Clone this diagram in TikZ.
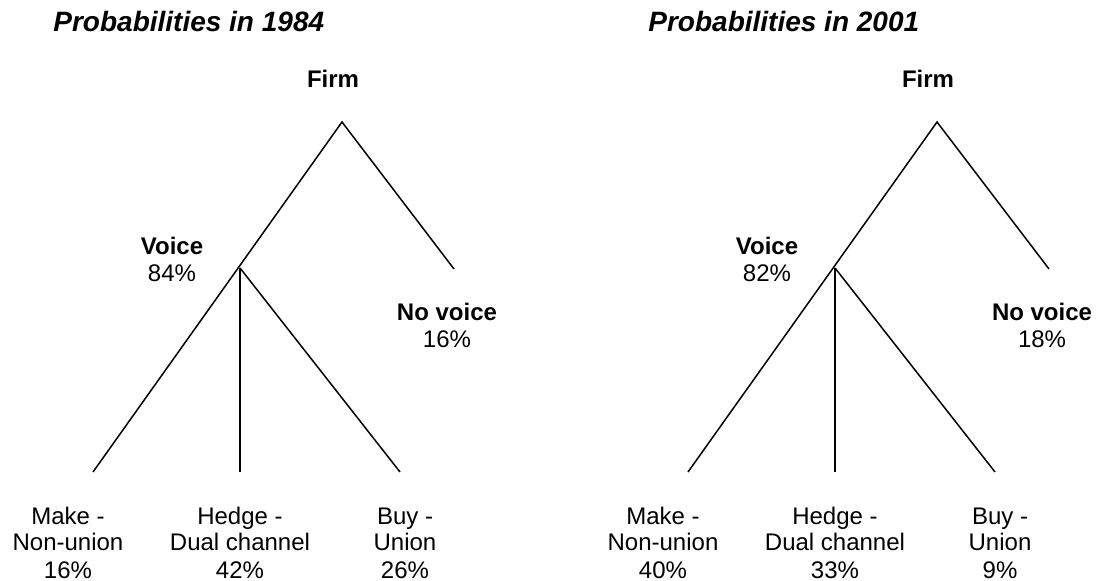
\documentclass[tikz,border=0pt]{standalone}
\usepackage{fontspec}
\setmainfont{Liberation Sans}
\usepackage{tikz}

\tikzset{
  lbl/.style={align=center, anchor=base, inner sep=0pt,
    font=\fontsize{12}{13.5}\selectfont},
  hd/.style={anchor=base west, inner sep=0pt,
    font=\fontsize{14}{16}\selectfont\bfseries\itshape},
  branch/.style={line width=0.75pt}
}

\begin{document}
\begin{tikzpicture}[x=0.5pt, y=-0.5pt]
    \useasboundingbox (0,0) rectangle (1096,581);
    \foreach \t/\dx/\yr/\pv/\pn/\pm/\ph/\pb in
      {a/0/1984/84/16/16/42/26, b/595/2001/82/18/40/33/9} {
      \node[hd] (title\t) at (53+\dx,32) {Probabilities in \yr};
      \node[lbl] (firm\t) at (333+\dx,88) {\textbf{Firm}};
      \node[lbl] (voice\t) at (172+\dx,282) {\textbf{Voice}\\\pv\%};
      \node[lbl] (novoice\t) at (447+\dx,348) {\textbf{No voice}\\\pn\%};
      \node[lbl] (make\t) at (68+\dx,578) {Make -\\Non-union\\\pm\%};
      \node[lbl] (hedge\t) at (240+\dx,578) {Hedge -\\Dual channel\\\ph\%};
      \node[lbl] (buy\t) at (405+\dx,578) {Buy -\\Union\\\pb\%};
      % branch points
      \coordinate (top\t) at (342+\dx,122);
      \coordinate (mid\t) at (240+\dx,268);
      \coordinate (nv\t) at (454+\dx,269);
      \coordinate (mk\t) at (93+\dx,472);
      \coordinate (hg\t) at (240+\dx,472);
      \coordinate (by\t) at (400+\dx,472);
      \draw[branch] (nv\t) -- (top\t) -- (mk\t);
      \draw[branch] (mid\t) -- (hg\t);
      \draw[branch] (mid\t) -- (by\t);
    }
  \end{tikzpicture}
\end{document}
